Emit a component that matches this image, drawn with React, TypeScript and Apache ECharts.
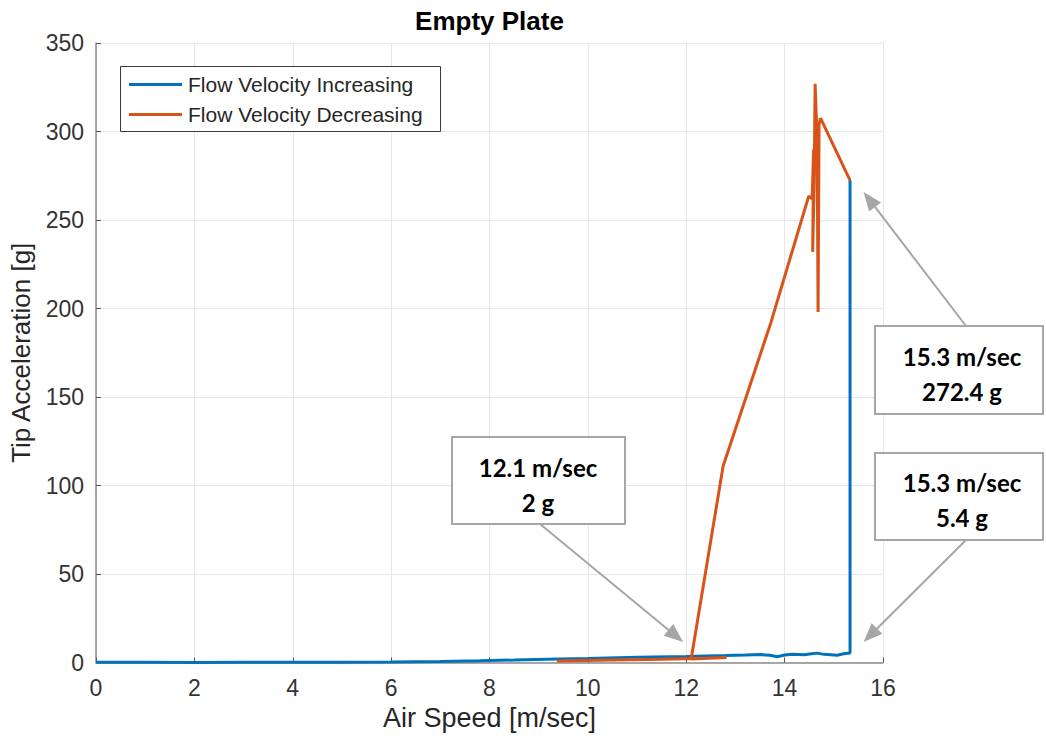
import React, { useEffect, useRef } from "react";
import * as echarts from "echarts";

// Run-up with the flow speed increasing: air speed [m/sec] and tip acceleration [g]
const increasingSpeed = [0, 1, 2, 3, 4, 5, 6, 7, 7.8, 8.5, 9.4, 10, 11, 12, 12.8, 13.2, 13.5, 13.7, 13.85, 14.0, 14.15, 14.4, 14.55, 14.66, 14.8, 15.07, 15.2, 15.33, 15.33];
const increasingAccel = [0.1, 0.1, 0.0, 0.1, 0.1, 0.2, 0.3, 0.6, 1.0, 1.4, 2.0, 2.3, 2.9, 3.4, 3.9, 4.2, 4.5, 4.1, 3.3, 4.2, 4.7, 4.4, 5.0, 5.3, 4.6, 4.1, 4.9, 5.4, 272.4];

// Run-down with the flow speed decreasing
const decreasingSpeed = [15.33, 14.73, 14.7, 14.68, 14.66, 14.64, 14.62, 14.6, 14.57, 14.59, 14.56, 14.49, 13.72, 12.75, 12.1, 12.82, 12.4, 11.5, 10.5, 9.37];
const decreasingAccel = [272.4, 307.5, 304, 198, 300, 311, 327, 270, 232, 290, 262, 263.5, 192, 111, 2.0, 2.8, 2.4, 1.8, 1.4, 0.9];

const seriesNames = ["Flow Velocity Increasing", "Flow Velocity Decreasing"];

// Which recorded points get a callout (series, index)
const calloutPoints: { speeds: number[]; accels: number[]; index: number }[] = [
  { speeds: decreasingSpeed, accels: decreasingAccel, index: 14 },
  { speeds: increasingSpeed, accels: increasingAccel, index: 28 },
  { speeds: increasingSpeed, accels: increasingAccel, index: 27 },
];

// Callout layout: box rectangle, text centre, arrow start and tip offset from the point
const calloutLayout = [
  { box: [452, 437, 173, 87], text: [538, 484.5], from: [540, 524], tipOffset: [-8, -17] },
  { box: [875, 326, 168, 88], text: [962, 373.5], from: [966, 326], tipOffset: [13.5, 11.6] },
  { box: [875, 453, 168, 87], text: [962, 499.5], from: [966, 540], tipOffset: [13.5, -11] },
];

const BLUE = "#0072BD";
const ORANGE = "#D95319";
const AXIS_TEXT = "#262626";
const FONT = "'Liberation Sans', Arial, sans-serif";

function pairs(xs: number[], ys: number[]) {
  return xs.map((x, i) => [x, ys[i]]);
}

function arrow(from: number[], to: number[], color: string) {
  const dx = to[0] - from[0];
  const dy = to[1] - from[1];
  const len = Math.hypot(dx, dy);
  const ux = dx / len;
  const uy = dy / len;
  const headLen = 19;
  const halfW = 7.5;
  const bx = to[0] - ux * headLen;
  const by = to[1] - uy * headLen;
  return [
    {
      type: "line",
      z: 6,
      shape: { x1: from[0], y1: from[1], x2: bx + ux * 2, y2: by + uy * 2 },
      style: { stroke: color, lineWidth: 2 },
      silent: true,
    },
    {
      type: "polygon",
      z: 6,
      shape: {
        points: [
          [to[0], to[1]],
          [bx - uy * halfW, by + ux * halfW],
          [bx + uy * halfW, by - ux * halfW],
        ],
      },
      style: { fill: color },
      silent: true,
    },
  ];
}

export default function App() {
  const ref = useRef<HTMLDivElement>(null);

  useEffect(() => {
    if (!ref.current) return;
    const chart = echarts.init(ref.current, null, { renderer: "svg" });

    chart.setOption({
      animation: false,
      backgroundColor: "#ffffff",
      title: {
        text: "Empty Plate",
        left: 489.5,
        textAlign: "center",
        top: 8,
        padding: 0,
        textStyle: { fontFamily: FONT, fontWeight: "bold", fontSize: 26, color: "#000000" },
      },
      legend: {
        data: seriesNames,
        orient: "vertical",
        left: 129,
        top: 74,
        padding: 0,
        itemGap: 9,
        itemWidth: 53,
        itemHeight: 3,
        icon: "rect",
        z: 5,
        textStyle: { fontFamily: FONT, fontSize: 21, color: AXIS_TEXT, padding: [0, 0, 0, 1] },
      },
      grid: { left: 96, right: 163, top: 43, bottom: 77.5, containLabel: false },
      xAxis: {
        type: "value",
        min: 0,
        max: 16,
        interval: 2,
        name: "Air Speed [m/sec]",
        nameLocation: "middle",
        nameGap: 42,
        nameTextStyle: { fontFamily: FONT, fontSize: 27, color: AXIS_TEXT },
        axisLine: { show: true, lineStyle: { color: "#8c8c8c", width: 1.5 } },
        axisTick: { show: true, inside: true, length: 5, lineStyle: { color: "#555555", width: 1 } },
        axisLabel: { margin: 14, fontFamily: FONT, fontSize: 23, color: "#333333" },
        splitLine: { show: true, lineStyle: { color: "#e6e6e6", width: 1 } },
      },
      yAxis: {
        type: "value",
        min: 0,
        max: 350,
        interval: 50,
        name: "Tip Acceleration [g]",
        nameLocation: "middle",
        nameGap: 62,
        nameTextStyle: { fontFamily: FONT, fontSize: 26, color: AXIS_TEXT },
        axisLine: { show: true, lineStyle: { color: "#8c8c8c", width: 1.5 } },
        axisTick: { show: true, inside: true, length: 5, lineStyle: { color: "#555555", width: 1 } },
        axisLabel: { margin: 12, fontFamily: FONT, fontSize: 23, color: "#333333" },
        splitLine: { show: true, lineStyle: { color: "#e6e6e6", width: 1 } },
      },
      series: [
        {
          name: seriesNames[0],
          type: "line",
          data: pairs(increasingSpeed, increasingAccel),
          showSymbol: false,
          symbol: "none",
          lineStyle: { color: BLUE, width: 3 },
          itemStyle: { color: BLUE },
          z: 2,
        },
        {
          name: seriesNames[1],
          type: "line",
          data: pairs(decreasingSpeed, decreasingAccel),
          showSymbol: false,
          symbol: "none",
          lineStyle: { color: ORANGE, width: 3 },
          itemStyle: { color: ORANGE },
          z: 3,
        },
      ],
    });

    const graphics: any[] = [
      {
        type: "rect",
        z: 3,
        shape: { x: 120.5, y: 66.5, width: 320, height: 65 },
        style: { fill: "#ffffff", stroke: "#3a3a3a", lineWidth: 1 },
        silent: true,
      },
    ];

    calloutPoints.forEach((p, i) => {
      const speed = p.speeds[p.index];
      const accel = p.accels[p.index];
      const layout = calloutLayout[i];
      const px = chart.convertToPixel({ gridIndex: 0 }, [speed, accel]) as number[];
      const tip = [px[0] + layout.tipOffset[0], px[1] + layout.tipOffset[1]];
      graphics.push(...arrow(layout.from, tip, "#a6a6a6"));
      graphics.push({
        type: "rect",
        z: 7,
        shape: { x: layout.box[0], y: layout.box[1], width: layout.box[2], height: layout.box[3] },
        style: { fill: "#ffffff", stroke: "#a6a6a6", lineWidth: 2 },
        silent: true,
      });
      graphics.push({
        type: "text",
        z: 8,
        style: {
          text: `${speed.toFixed(1)} m/sec\n${accel} g`,
          x: layout.text[0],
          y: layout.text[1],
          align: "center",
          verticalAlign: "middle",
          lineHeight: 35,
          fontFamily: "Lato, 'Open Sans', sans-serif",
          fontWeight: "bold",
          fontSize: 24,
          fill: "#000000",
        },
        silent: true,
      });
    });

    chart.setOption({ graphic: graphics });

    return () => chart.dispose();
  }, []);

  return (
    <div
      ref={ref}
      style={{ position: "fixed", left: 0, top: 0, width: 1046, height: 740, background: "#fff" }}
    />
  );
}
